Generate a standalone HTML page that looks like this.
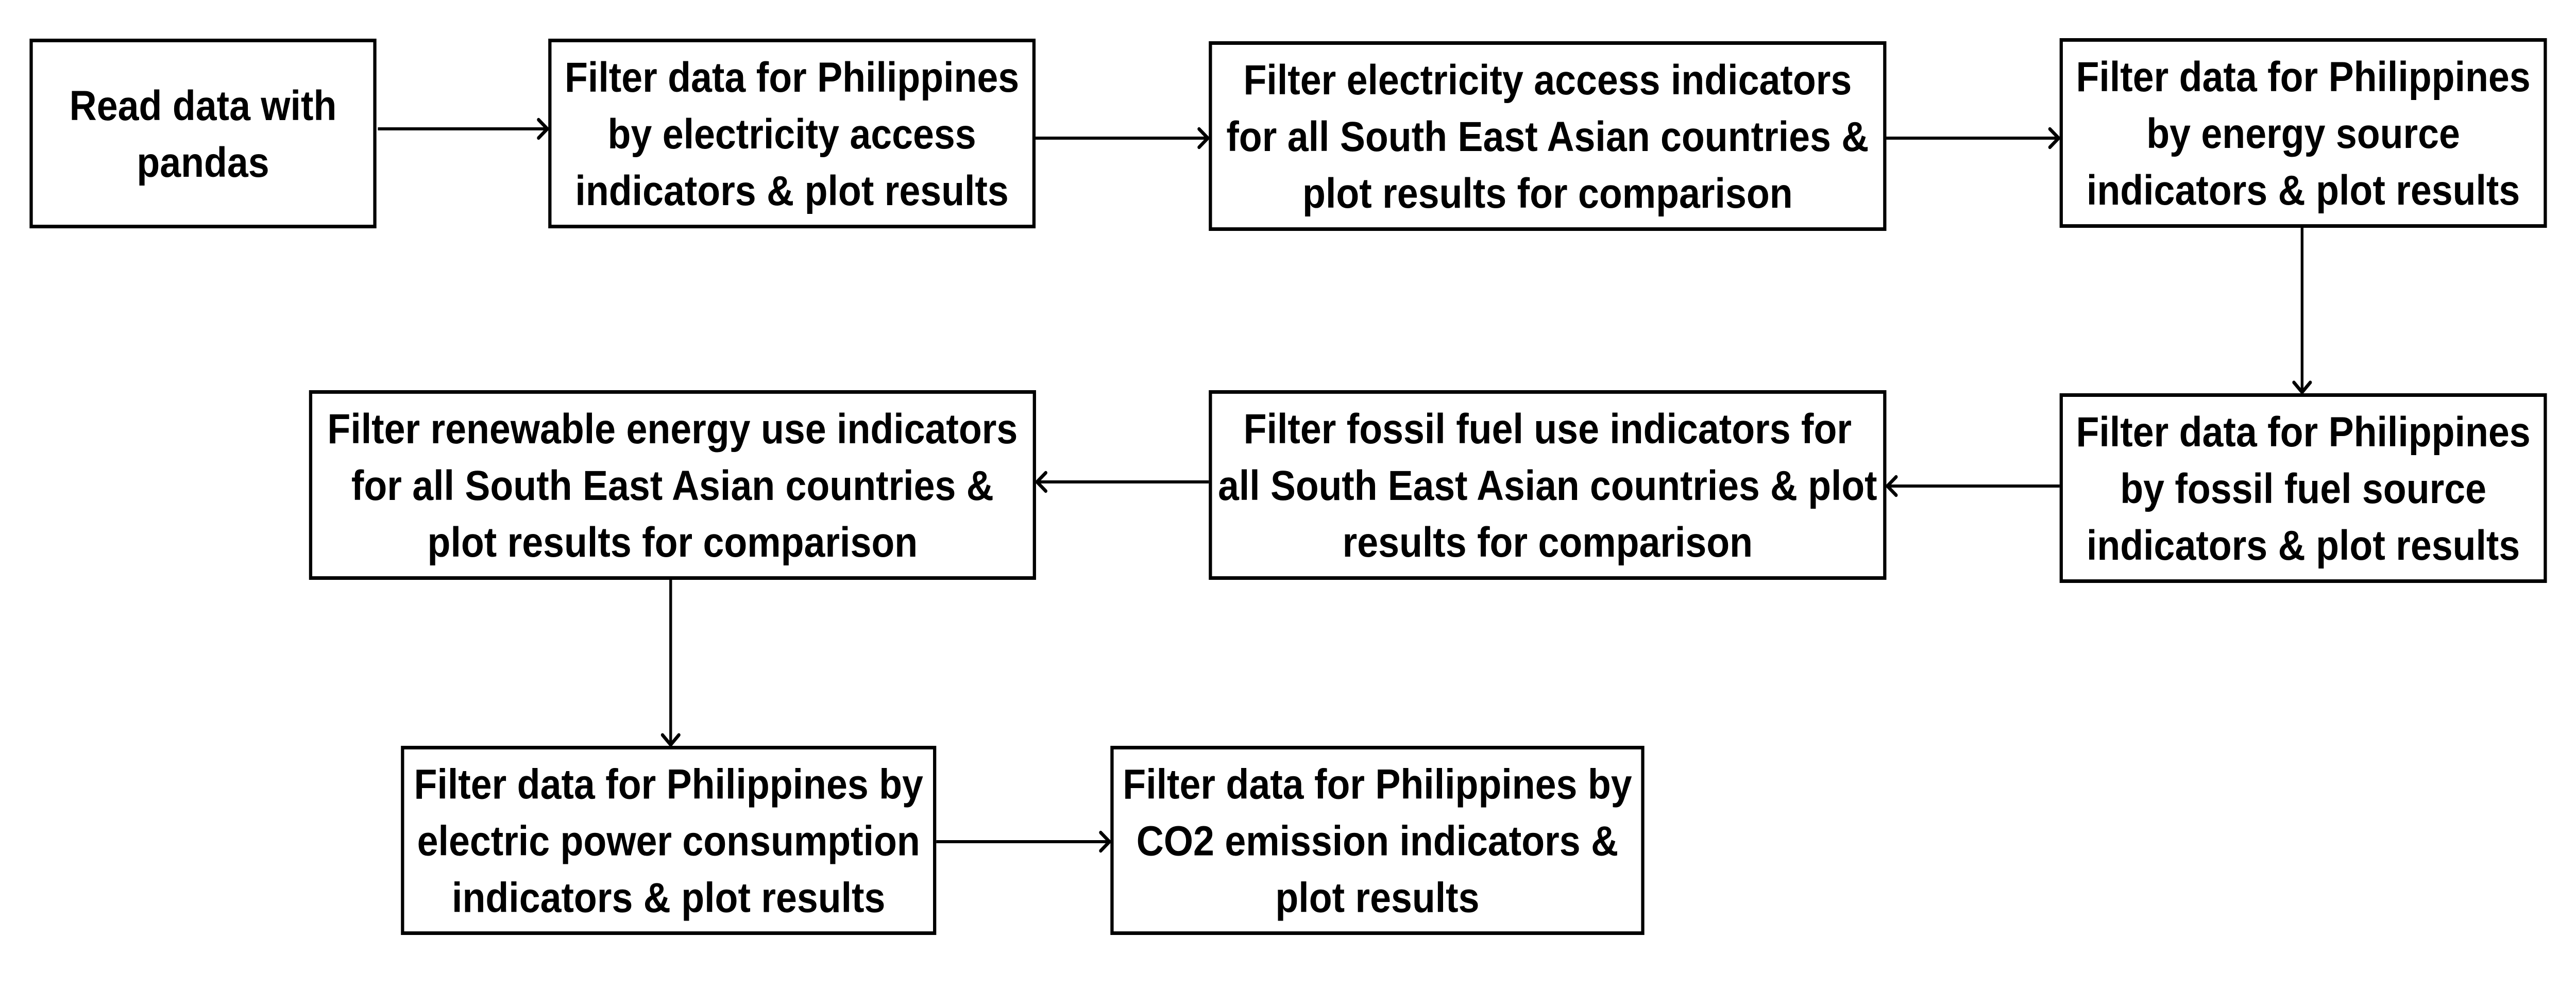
<!DOCTYPE html>
<html><head><meta charset="utf-8"><style>
html,body{margin:0;padding:0;background:#fff;width:100%;height:100%;overflow:hidden}
svg{display:block;position:absolute;left:0;top:0;width:100vw;height:100vh}
text{font-family:"Liberation Sans","DejaVu Sans",sans-serif;font-weight:bold;font-size:82px;fill:#000;text-anchor:middle}
</style></head><body>
<svg viewBox="0 0 5577 1913" preserveAspectRatio="none" xmlns="http://www.w3.org/2000/svg">
<g id="boxes"></g>
<g id="arrows"></g>
</svg>
<script>
const boxLabels = [
 ["Read data with","pandas"],
 ["Filter data for Philippines","by electricity access","indicators & plot results"],
 ["Filter electricity access indicators","for all South East Asian countries &","plot results for comparison"],
 ["Filter data for Philippines","by energy source","indicators & plot results"],
 ["Filter data for Philippines","by fossil fuel source","indicators & plot results"],
 ["Filter fossil fuel use indicators for","all South East Asian countries & plot","results for comparison"],
 ["Filter renewable energy use indicators","for all South East Asian countries &","plot results for comparison"],
 ["Filter data for Philippines by","electric power consumption","indicators & plot results"],
 ["Filter data for Philippines by","CO2 emission indicators &","plot results"]
];
const boxNames = ["read-data-box","philippines-electricity-box","sea-electricity-box","philippines-energy-source-box","philippines-fossil-source-box","sea-fossil-fuel-box","sea-renewable-box","philippines-power-consumption-box","philippines-co2-box"];
const boxRects = [
 [64,75,815,443],[1187,75,2242,443],[2617,80,4084,448],[4459,74,5514,442],
 [4459,763,5514,1131],[2617,757,4084,1125],[669,757,2243,1125],
 [868,1447,2027,1814],[2404,1447,3560,1814]
];
const arrowLines = [
 [818,250,1187,250],[2242,268,2617,268],[4084,268,4459,268],
 [4984,442,4984,763],[4459,943,4084,943],[2617,935,2243,935],
 [1452,1125,1452,1447],[2027,1633,2404,1633]
];
const NS="http://www.w3.org/2000/svg";
const gb=document.getElementById('boxes'), ga=document.getElementById('arrows');
boxRects.forEach((r,i)=>{
 const g=document.createElementNS(NS,'g');
 
 
 gb.appendChild(g);
 const rc=document.createElementNS(NS,'rect');
 rc.setAttribute('x',r[0]+3.5);rc.setAttribute('y',r[1]+3.5);
 rc.setAttribute('width',r[2]-r[0]-7);rc.setAttribute('height',r[3]-r[1]-7);
 rc.setAttribute('fill','#fff');rc.setAttribute('stroke','#000');rc.setAttribute('stroke-width','7');
 g.appendChild(rc);
 const lines=boxLabels[i], lh=110, cx=(r[0]+r[2])/2, cy=(r[1]+r[3])/2;
 const start=cy-(lines.length-1)*lh/2;
 const maxW=r[2]-r[0]-40;
 lines.forEach((t,j)=>{
  const tx=document.createElementNS(NS,'text');
  
  
  tx.setAttribute('x',cx);tx.setAttribute('y',start+j*lh+29);
  tx.textContent=t;
  g.appendChild(tx);
  const w=tx.getComputedTextLength();
  if(w>maxW){tx.setAttribute('textLength',maxW);tx.setAttribute('lengthAdjust','spacingAndGlyphs');}
 });
});
arrowLines.forEach(a=>{
 const g=document.createElementNS(NS,'g');
 
 
 const l=document.createElementNS(NS,'line');
 l.setAttribute('x1',a[0]);l.setAttribute('y1',a[1]);l.setAttribute('x2',a[2]);l.setAttribute('y2',a[3]);
 l.setAttribute('stroke','#000');l.setAttribute('stroke-width','6');
 g.appendChild(l);
 const ang=Math.atan2(a[3]-a[1],a[2]-a[0]);
 const tipx=a[2]-Math.cos(ang)*2, tipy=a[3]-Math.sin(ang)*2;
 const L=26, w=0.75;
 const p=document.createElementNS(NS,'polyline');
 const x1=tipx-L*Math.cos(ang-w), y1=tipy-L*Math.sin(ang-w);
 const x2=tipx-L*Math.cos(ang+w), y2=tipy-L*Math.sin(ang+w);
 p.setAttribute('points',`${x1},${y1} ${tipx},${tipy} ${x2},${y2}`);
 p.setAttribute('fill','none');p.setAttribute('stroke','#000');p.setAttribute('stroke-width','7');
 p.setAttribute('stroke-linecap','round');p.setAttribute('stroke-linejoin','round');
 g.appendChild(p);
 ga.appendChild(g);
});
</script>
</body></html>
